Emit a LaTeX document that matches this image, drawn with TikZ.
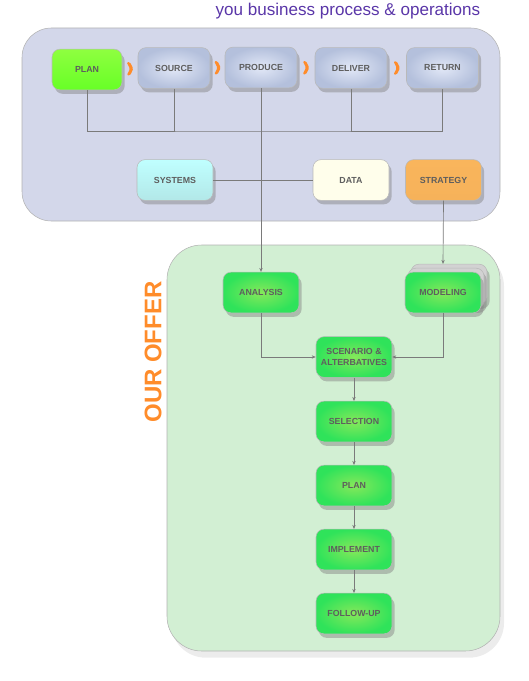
\documentclass[tikz,border=0pt]{standalone}
\usepackage{fontspec}
\setsansfont{Liberation Sans}
\usepackage{tikz}
\usetikzlibrary{arrows.meta,shadows,decorations.markings}

\definecolor{txtgray}{HTML}{5E5E5E}
\definecolor{linegray}{HTML}{7A7A7A}
\definecolor{topbg}{HTML}{D3D7EA}
\definecolor{botbg}{HTML}{D2EFD3}
\definecolor{offer}{HTML}{FF8C2A}
\definecolor{titlepurple}{HTML}{5A36A8}
\definecolor{gcore}{HTML}{86E85A}
\definecolor{gedge}{HTML}{2FE35A}
\definecolor{bcore}{HTML}{E2E8F7}
\definecolor{bedge}{HTML}{B4C0DC}
\definecolor{otop}{HTML}{F9B55C}
\definecolor{omid}{HTML}{FF9124}
\definecolor{obot}{HTML}{F6B25A}

\begin{document}
\begin{tikzpicture}[x=0.75pt,y=-0.75pt,
	box/.style={rounded corners=6pt, draw=gray!55, minimum width=57pt, minimum height=30.5pt,
		font=\sffamily\bfseries\fontsize{6.6}{7.6}\selectfont, text=txtgray, align=center,
		drop shadow={opacity=.45, shadow xshift=2pt, shadow yshift=-3pt}},
	grn/.style={box, shading=radial, inner color=gcore, outer color=gedge},
	blu/.style={box, minimum width=54pt, shading=radial, inner color=bcore, outer color=bedge},
	card/.style={box, fill=gray!35},
	link/.style={draw=linegray, line width=.5pt},
	flow/.style={postaction={decorate}, decoration={markings, mark=at position .5 with
		{\fill[offer, rounded corners=1pt] (-2.5pt,-5pt) -- (0pt,-5pt) -- (2.5pt,0pt) -- (0pt,5pt) -- (-2.5pt,5pt) -- (0pt,0pt) -- cycle;}}},
	>={Stealth[length=3pt,width=2.5pt]}]
	\useasboundingbox (0,0) rectangle (528,681);
	%
	\filldraw[fill=topbg, draw=gray!60, rounded corners=22pt] (22,28) rectangle (500,221);
	\filldraw[fill=botbg, draw=gray!60, rounded corners=26pt,
		drop shadow={opacity=.15, shadow xshift=3pt, shadow yshift=-5pt}] (167,245) rectangle (500,651);
	%
	\node[anchor=east, font=\sffamily\fontsize{12.8}{15}\selectfont, text=titlepurple] (title) at (485,11) {you business process \& operations};
	\node[rotate=90, font=\sffamily\bfseries\fontsize{18}{20}\selectfont, text=offer] (offer) at (153,352) {OUR OFFER};
	%
	\node[box, minimum width=52.5pt, top color=green!45!lime!75, bottom color=green!60!lime!85] (plan) at (87,69.5) {PLAN};
	\node[blu] (src) at (174,68) {SOURCE};
	\node[blu] (prod) at (261,67.5) {PRODUCE};
	\node[blu] (dlv) at (351,68) {DELIVER};
	\node[blu] (ret) at (442.5,68) {RETURN};
	\node[box, top color=cyan!25, bottom color=cyan!40!teal!30] (sys) at (175,180) {SYSTEMS};
	\node[box, fill=yellow!8!white] (data) at (351,180) {DATA};
	\node[box, top color=otop, middle color=omid, bottom color=obot] (strat) at (443.5,180) {STRATEGY};
	%
	\node[grn] (ana) at (261,292.5) {ANALYSIS};
	\node[card] (mod3) at (449,284.5) {};
	\node[card] (mod2) at (446,288.5) {};
	\node[grn] (mod) at (443,292.5) {MODELING};
	\node[grn] (scen) at (354,357) {SCENARIO \&\\ALTERBATIVES};
	\node[grn] (sel) at (354,421.5) {SELECTION};
	\node[grn] (plan2) at (354,485.5) {PLAN};
	\node[grn] (impl) at (354,549.5) {IMPLEMENT};
	\node[grn] (fol) at (354,613.5) {FOLLOW-UP};
	%
	\coordinate (bus) at (261,131);
	\path[draw=none] [flow] (plan) -- (src);
	\path[draw=none] [flow] (src) -- (prod);
	\path[draw=none] [flow] (prod) -- (dlv);
	\path[draw=none] [flow] (dlv) -- (ret);
	%
	\draw[link] (plan.south) |- (bus) -| (ret.south);
	\draw[link] (src.south) -- (src.south |- bus);
	\draw[link] (dlv.south) -- (dlv.south |- bus);
	\draw[link] (sys) -- (data);
	%
	\draw[link,->] (prod.south) -- (ana.north);
	\draw[link,->] (strat.south) -- (mod3.north -| mod.north);
	\draw[link,->] (ana.south) |- (scen.west);
	\draw[link,->] (mod.south) |- (scen.east);
	\path[->, link]
	(scen) edge (sel)
	(sel) edge (plan2)
	(plan2) edge (impl)
	(impl) edge (fol);
\end{tikzpicture}
\end{document}
